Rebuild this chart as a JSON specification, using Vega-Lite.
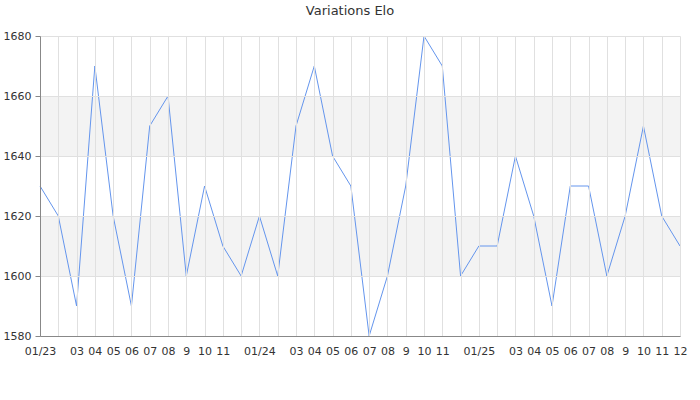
{
  "$schema": "https://vega.github.io/schema/vega-lite/v6.json",
  "width": 640,
  "height": 300,
  "autosize": "none",
  "padding": {"left": 40, "top": 36, "right": 20, "bottom": 64},
  "background": "white",
  "config": {"view": {"stroke": null}, "font": "DejaVu Sans"},
  "title": {"text": "Variations Elo", "fontSize": 13, "fontWeight": "normal", "color": "#333333", "font": "DejaVu Sans", "offset": 12, "dx": -10},
  "datasets": {
    "elo": [
      {"m": "01/23", "elo": 1630}, {"m": "02/23", "elo": 1620}, {"m": "03/23", "elo": 1590}, {"m": "04/23", "elo": 1670},
      {"m": "05/23", "elo": 1620}, {"m": "06/23", "elo": 1590}, {"m": "07/23", "elo": 1650}, {"m": "08/23", "elo": 1660},
      {"m": "09/23", "elo": 1600}, {"m": "10/23", "elo": 1630}, {"m": "11/23", "elo": 1610}, {"m": "12/23", "elo": 1600},
      {"m": "01/24", "elo": 1620}, {"m": "02/24", "elo": 1600}, {"m": "03/24", "elo": 1650}, {"m": "04/24", "elo": 1670},
      {"m": "05/24", "elo": 1640}, {"m": "06/24", "elo": 1630}, {"m": "07/24", "elo": 1580}, {"m": "08/24", "elo": 1600},
      {"m": "09/24", "elo": 1630}, {"m": "10/24", "elo": 1680}, {"m": "11/24", "elo": 1670}, {"m": "12/24", "elo": 1600},
      {"m": "01/25", "elo": 1610}, {"m": "02/25", "elo": 1610}, {"m": "03/25", "elo": 1640}, {"m": "04/25", "elo": 1620},
      {"m": "05/25", "elo": 1590}, {"m": "06/25", "elo": 1630}, {"m": "07/25", "elo": 1630}, {"m": "08/25", "elo": 1600},
      {"m": "09/25", "elo": 1620}, {"m": "10/25", "elo": 1650}, {"m": "11/25", "elo": 1620}, {"m": "12/25", "elo": 1610}
    ],
    "bands": [
      {"lo": 1600, "hi": 1620},
      {"lo": 1640, "hi": 1660}
    ]
  },
  "layer": [
    {
      "data": {"name": "bands"},
      "mark": {"type": "rect", "color": "#f3f3f3"},
      "encoding": {
        "y": {
          "field": "lo", "type": "quantitative",
          "scale": {"domain": [1580, 1680], "nice": false, "zero": false},
          "axis": {
            "title": null, "values": [1580, 1590, 1600, 1610, 1620, 1630, 1640, 1650, 1660, 1670, 1680],
            "format": "d",
            "grid": true, "gridColor": "#e0e0e0",
            "gridOpacity": {"condition": {"test": "datum.value % 20 != 0", "value": 0}, "value": 1},
            "labelExpr": "datum.value % 20 == 0 ? datum.label : ''",
            "tickColor": "#888888", "tickSize": 5, "domainColor": "#888888",
            "labelColor": "#333333", "labelFontSize": 11, "labelPadding": 4, "zindex": 1
          }
        },
        "y2": {"field": "hi"}
      }
    },
    {
      "data": {"name": "elo"},
      "mark": {"type": "line", "color": "#6495ed", "strokeWidth": 1},
      "encoding": {
        "x": {
          "field": "m", "type": "ordinal", "sort": null,
          "scale": {"type": "point", "padding": 0},
          "axis": {
            "title": null, "labelAngle": 0, "ticks": false, "grid": true, "gridColor": "#e0e0e0", "gridWidth": 1,
            "domainColor": "#888888", "labelColor": "#333333", "labelFontSize": 11, "labelPadding": 9,
            "labelOverlap": false, "zindex": 1,
            "labelExpr": "substring(datum.value,0,2)=='01' ? datum.value : (substring(datum.value,0,2)=='02' || datum.value=='12/23' || datum.value=='12/24') ? '' : substring(datum.value,0,2)=='09' ? '9' : substring(datum.value,0,2)"
          }
        },
        "y": {"field": "elo", "type": "quantitative"}
      }
    }
  ]
}
